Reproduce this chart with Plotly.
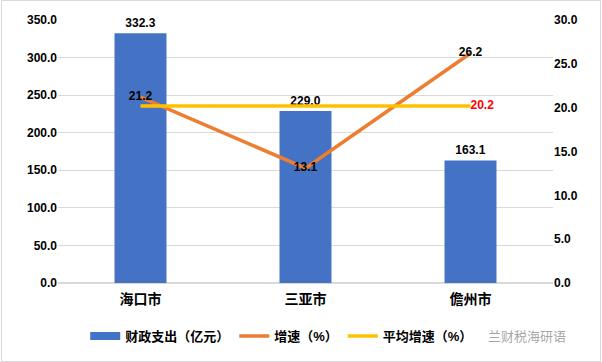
import plotly.graph_objects as go

cities = ["海口市", "三亚市", "儋州市"]
spend = [332.3, 229.0, 163.1]
growth = [21.2, 13.1, 26.2]
avg_growth = [20.2, 20.2, 20.2]
left_ticks = [0, 50, 100, 150, 200, 250, 300, 350]
right_ticks = [0, 5, 10, 15, 20, 25, 30]

FONT = "Liberation Sans, Noto Sans CJK SC, sans-serif"

fig = go.Figure()
fig.add_trace(go.Bar(
    x=cities, y=spend, name="财政支出（亿元）", showlegend=False,
    marker=dict(color="#4472C4", line=dict(width=0)),
    text=[f"{v:.1f}" for v in spend], textposition="outside",
    textfont=dict(size=12, color="black", family=FONT, weight="bold"),
    cliponaxis=False,
))
# legend proxy for the bar series (wide rectangle swatch)
fig.add_trace(go.Scatter(
    x=[None], y=[None], name="财政支出（亿元）", mode="lines",
    line=dict(color="#4472C4", width=8),
))
fig.add_trace(go.Scatter(
    x=cities, y=growth, name="增速（%）", yaxis="y2",
    mode="lines+text", line=dict(color="#ED7D31", width=3.5),
    text=[f"{v:.1f}" for v in growth], textposition="middle center",
    textfont=dict(size=12, color="black", family=FONT, weight="bold"),
    cliponaxis=False,
))
fig.add_trace(go.Scatter(
    x=cities, y=avg_growth, name="平均增速（%）", yaxis="y2",
    mode="lines+text", line=dict(color="#FFC000", width=3.5),
    text=["", "", f"{avg_growth[-1]:.1f}"], textposition="middle right",
    textfont=dict(size=12, color="#FF0000", family=FONT, weight="bold"),
    cliponaxis=False,
))

fig.update_layout(
    width=602, height=362,
    margin=dict(l=58, r=49, t=20, b=79, autoexpand=False),
    paper_bgcolor="white", plot_bgcolor="white",
    font=dict(family=FONT, size=12, color="black"),
    bargap=0.685,
    showlegend=True,
    legend=dict(orientation="h", x=0.055, xanchor="left", y=-0.2015, yanchor="middle",
                font=dict(size=13, color="black", family=FONT, weight="bold"),
                itemwidth=30, tracegroupgap=0, bgcolor="rgba(0,0,0,0)"),
    xaxis=dict(showgrid=False, showline=False, zeroline=False,
               tickfont=dict(size=14, color="black", family=FONT, weight="bold"),
               ticks="", ticklabelstandoff=6),
    yaxis=dict(range=[0, 350], tickvals=left_ticks,
               ticktext=[f"{v:.1f}" for v in left_ticks],
               showgrid=True, gridcolor="#D9D9D9", gridwidth=1,
               zeroline=True, zerolinecolor="#D9D9D9", showline=False,
               tickfont=dict(size=12, color="black", family=FONT, weight="bold"), ticks=""),
    yaxis2=dict(range=[0, 30], tickvals=right_ticks,
                ticktext=[f"{v:.1f}" for v in right_ticks],
                overlaying="y", side="right", showgrid=False, zeroline=False,
                showline=False,
                tickfont=dict(size=12, color="black", family=FONT, weight="bold"), ticks=""),
    shapes=[dict(type="rect", xref="paper", yref="paper",
                 x0=-56.5/495, x1=1+47.5/495, y0=-78.5/263, y1=1+19.5/263,
                 line=dict(color="#D9D9D9", width=1))],
    annotations=[dict(text="兰财税海研语", xref="paper", yref="paper",
                      x=(568-58)/495, y=-0.2015, xanchor="right", yanchor="middle",
                      showarrow=False,
                      font=dict(size=13, color="rgba(150,150,150,0.85)",
                                family="Noto Sans CJK SC"))],
)

fig.write_html("out.html", config={"displayModeBar": False},
               post_script="document.body.style.margin='0';document.body.style.padding='0';")
